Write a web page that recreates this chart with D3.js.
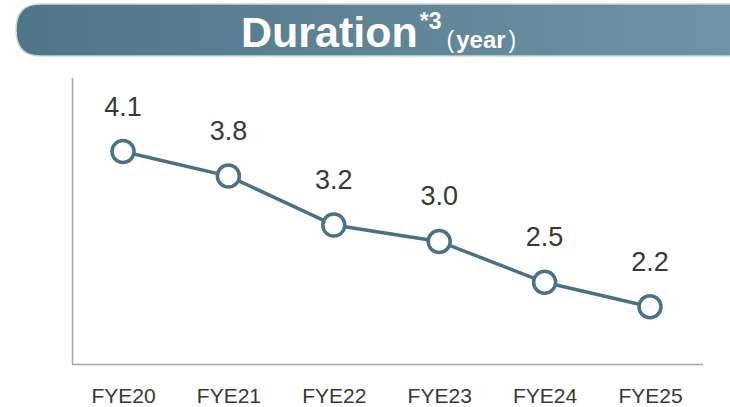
<!DOCTYPE html>
<html>
<head>
<meta charset="utf-8">
<script src="https://cdn.jsdelivr.net/npm/d3@7"></script>
<style>
  body { margin: 0; background: #fff; }
  svg { display: block; font-family: "Liberation Sans", Arial, sans-serif; }
</style>
</head>
<body>
<svg id="chart" width="730" height="407"></svg>
<script>
var years = ["FYE20", "FYE21", "FYE22", "FYE23", "FYE24", "FYE25"];
var duration = [4.1, 3.8, 3.2, 3.0, 2.5, 2.2];
var valueLabels = ["4.1", "3.8", "3.2", "3.0", "2.5", "2.2"];

var svg = d3.select("#chart");
var lineColor = "#4b7184";

// Title banner with a gradient and a rounded left end
var defs = svg.append("defs");
var grad = defs.append("linearGradient").attr("id", "bannerGrad");
grad.append("stop").attr("offset", "0%").attr("stop-color", "#507586");
grad.append("stop").attr("offset", "100%").attr("stop-color", "#6e94a5");

var bx = 16, by = 4, bw = 730, bh = 52, br = 24;
svg.append("path")
  .attr("d", "M" + (bx + br) + "," + by + " H" + (bx + bw) + " V" + (by + bh) +
    " H" + (bx + br) + " Q" + bx + "," + (by + bh) + " " + bx + "," + (by + bh / 2) +
    " Q" + bx + "," + by + " " + (bx + br) + "," + by + " Z")
  .attr("fill", "url(#bannerGrad)")
  .attr("stroke", "#c9d6dc")
  .attr("stroke-width", 1.5);

var title = svg.append("text")
  .attr("x", 241)
  .attr("y", 47)
  .attr("fill", "#fff")
  .attr("font-weight", "bold");
title.append("tspan").attr("font-size", 43).text("Duration");
title.append("tspan").attr("font-size", 23).attr("dx", 2).attr("dy", -18).text("*3");
title.append("tspan").attr("font-size", 23).attr("font-weight", "normal")
  .attr("dx", 5).attr("dy", 19).text("(");
title.append("tspan").attr("font-size", 24).attr("dx", 2).text("year");
title.append("tspan").attr("font-size", 23).attr("font-weight", "normal")
  .attr("dx", 3).text(")");

// Scales
var x = d3.scalePoint()
  .domain(years)
  .range([123, 650]);

var y = d3.scaleLinear()
  .domain([1.5, 5])
  .range([364, 78]);

// Axis lines
var xAxis = svg.append("g")
  .attr("transform", "translate(0,364)")
  .call(d3.axisBottom(x).tickSize(0).tickPadding(24));
xAxis.select(".domain").remove();
xAxis.selectAll("text")
  .attr("font-size", 21)
  .attr("font-family", "Liberation Sans, Arial, sans-serif")
  .attr("fill", "#383838");

svg.append("line")
  .attr("x1", 72.5).attr("x2", 72.5)
  .attr("y1", y(5)).attr("y2", 364.5)
  .attr("stroke", "#a6a6a6").attr("stroke-width", 1.5);
svg.append("line")
  .attr("x1", 72).attr("x2", 703)
  .attr("y1", 364.5).attr("y2", 364.5)
  .attr("stroke", "#a6a6a6").attr("stroke-width", 1.5);

// Line
var line = d3.line()
  .x(function(d, i) { return x(years[i]); })
  .y(function(d) { return y(d); });

svg.append("path")
  .datum(duration)
  .attr("fill", "none")
  .attr("stroke", lineColor)
  .attr("stroke-width", 3.5)
  .attr("d", line);

svg.selectAll("circle.pt")
  .data(duration)
  .enter().append("circle")
    .attr("class", "pt")
    .attr("cx", function(d, i) { return x(years[i]); })
    .attr("cy", function(d) { return y(d); })
    .attr("r", 11)
    .attr("fill", "#fff")
    .attr("stroke", lineColor)
    .attr("stroke-width", 3.5);

svg.selectAll("text.val")
  .data(duration)
  .enter().append("text")
    .attr("class", "val")
    .attr("x", function(d, i) { return x(years[i]); })
    .attr("y", function(d) { return y(d) - 36; })
    .attr("text-anchor", "middle")
    .attr("font-size", 27)
    .attr("fill", "#383838")
    .text(function(d, i) { return valueLabels[i]; });
</script>
</body>
</html>
